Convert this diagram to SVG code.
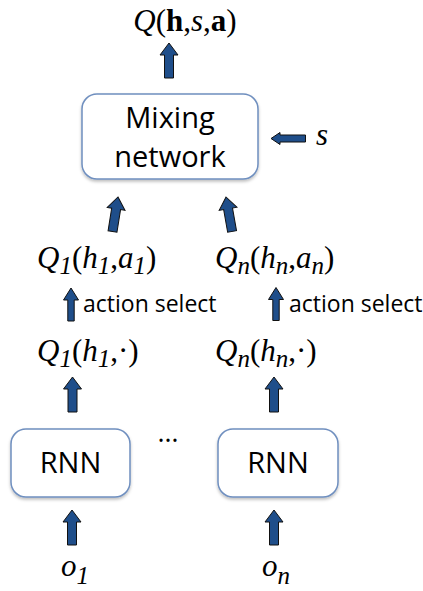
<svg xmlns="http://www.w3.org/2000/svg" width="423" height="591" viewBox="0 0 423 591">
<defs>
<filter id="sh" x="-20%" y="-20%" width="140%" height="150%">
<feDropShadow dx="0" dy="2" stdDeviation="1.5" flood-color="#000" flood-opacity="0.25"/>
</filter>
<path id="arr" d="M0,0 L9,12 L4.5,12 L4.5,35 L-4.5,35 L-4.5,12 L-9,12 Z"/>
<path id="arrs" d="M0,0 L7.5,12 L3.2,12 L3.2,33 L-3.2,33 L-3.2,12 L-7.5,12 Z"/>
</defs>
<style>
.box{fill:#fff;stroke:#6f8fbf;stroke-width:1.5}
.sans{font-family:"Open Sans","Liberation Sans",sans-serif;fill:#000}
.lbl{font-family:"Open Sans","Liberation Sans",sans-serif;font-size:29px;text-anchor:middle;fill:#000}
.math{font-family:"Liberation Serif","Times New Roman",serif;font-size:31px;fill:#000}
.it{font-style:italic}
.bd{font-weight:bold}
.sub{font-style:italic;font-size:25px}
.a{fill:#1f4e8a;stroke:#111;stroke-width:1}
</style>
<rect width="423" height="591" fill="#fff"/>

<g id="connectors">
<use href="#arr" class="a" transform="translate(169,43)"/>
<use href="#arr" class="a" transform="translate(118,197) rotate(9)"/>
<use href="#arr" class="a" transform="translate(226,197) rotate(-10)"/>
<path class="a" d="M271,138.5 L280,132.5 L280,135 L305.5,135 L305.5,142 L280,142 L280,144.5 Z"/>
<use href="#arrs" class="a" transform="translate(71,288)"/>
<use href="#arrs" class="a" transform="translate(276,287.5)"/>
<use href="#arr" class="a" transform="translate(72.5,377)"/>
<use href="#arr" class="a" transform="translate(274,377)"/>
<use href="#arr" class="a" transform="translate(72,510)"/>
<use href="#arr" class="a" transform="translate(274,510)"/>
</g>

<g id="q-total">
<text class="math" x="185" y="31" text-anchor="middle"><tspan class="it">Q</tspan>(<tspan class="bd">h</tspan>,<tspan class="it">s</tspan>,<tspan class="bd">a</tspan>)</text>
</g>

<g id="mixing">
<rect class="box" x="82" y="94" width="176" height="85" rx="15" filter="url(#sh)"/>
<text class="lbl" x="170" y="128">Mixing</text>
<text class="lbl" x="170" y="167">network</text>
</g>

<g id="state">
<text class="math it" x="316" y="145">s</text>
</g>

<g id="q1a">
<text class="math" x="37" y="268"><tspan class="it">Q</tspan><tspan class="sub" dy="6">1</tspan><tspan dy="-6">(</tspan><tspan class="it">h</tspan><tspan class="sub" dy="6">1</tspan><tspan dy="-6">,</tspan><tspan class="it">a</tspan><tspan class="sub" dy="6">1</tspan><tspan dy="-6">)</tspan></text>
</g>
<g id="qna">
<text class="math" x="215" y="268"><tspan class="it">Q</tspan><tspan class="sub" dy="6">n</tspan><tspan dy="-6">(</tspan><tspan class="it">h</tspan><tspan class="sub" dy="6">n</tspan><tspan dy="-6">,</tspan><tspan class="it">a</tspan><tspan class="sub" dy="6">n</tspan><tspan dy="-6">)</tspan></text>
</g>

<g id="select1">
<text class="sans" x="83" y="312" font-size="23">action select</text>
</g>
<g id="selectn">
<text class="sans" x="289" y="312" font-size="23">action select</text>
</g>

<g id="q1">
<text class="math" x="37" y="361"><tspan class="it">Q</tspan><tspan class="sub" dy="6">1</tspan><tspan dy="-6">(</tspan><tspan class="it">h</tspan><tspan class="sub" dy="6">1</tspan><tspan dy="-6">,·)</tspan></text>
</g>
<g id="qn">
<text class="math" x="215" y="361"><tspan class="it">Q</tspan><tspan class="sub" dy="6">n</tspan><tspan dy="-6">(</tspan><tspan class="it">h</tspan><tspan class="sub" dy="6">n</tspan><tspan dy="-6">,·)</tspan></text>
</g>

<g id="rnn1">
<rect class="box" x="11" y="429" width="119" height="68" rx="15" filter="url(#sh)"/>
<text class="lbl" x="70.5" y="473">RNN</text>
</g>
<g id="dots">
<text class="sans" x="168" y="442" font-size="27" text-anchor="middle">…</text>
</g>
<g id="rnnn">
<rect class="box" x="218" y="429" width="120" height="68" rx="15" filter="url(#sh)"/>
<text class="lbl" x="278" y="473">RNN</text>
</g>

<g id="o1">
<text class="math" x="61" y="576"><tspan class="it">o</tspan><tspan class="sub" dy="8">1</tspan></text>
</g>
<g id="on">
<text class="math" x="262" y="576"><tspan class="it">o</tspan><tspan class="sub" dy="8">n</tspan></text>
</g>
</svg>
